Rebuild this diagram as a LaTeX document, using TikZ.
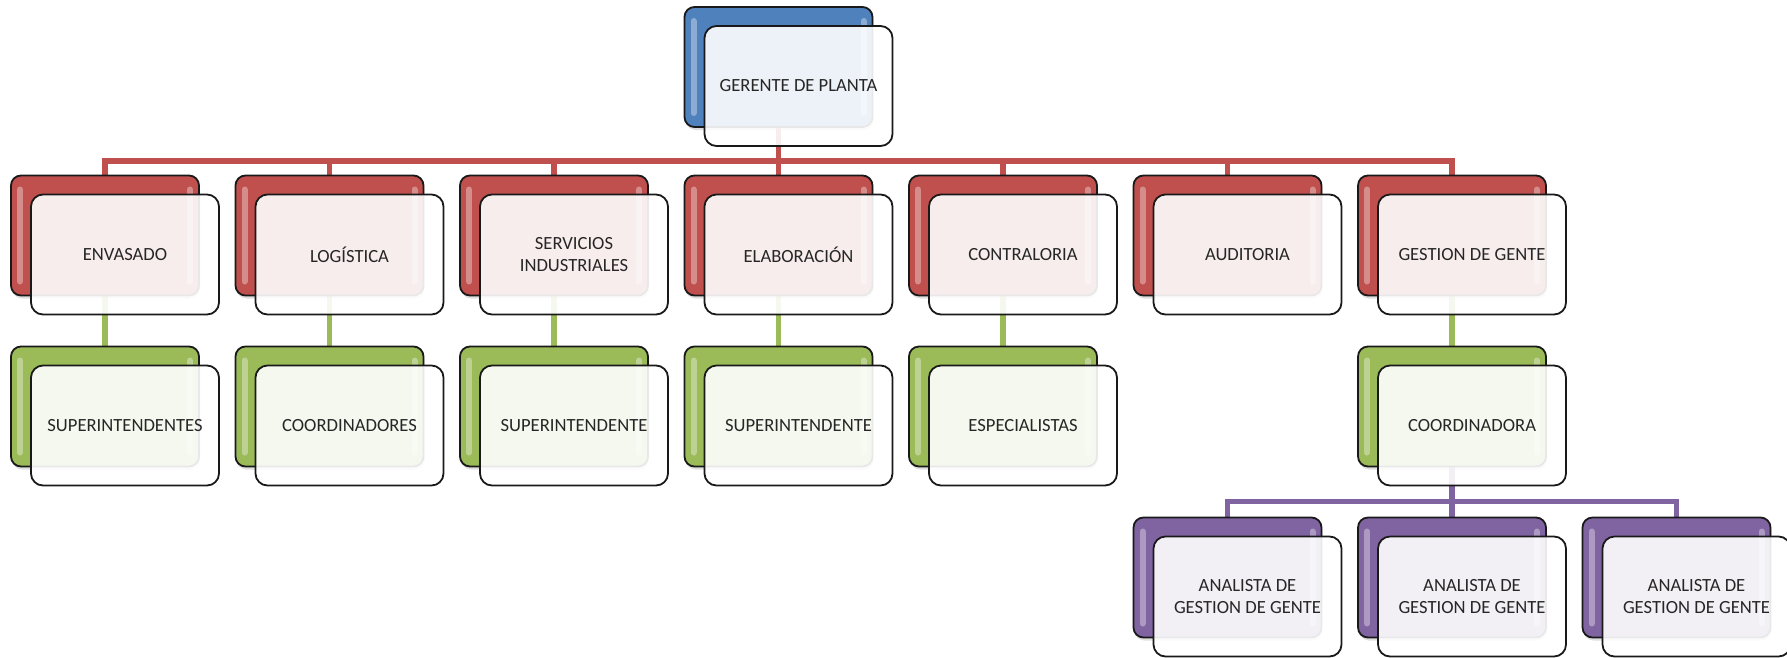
\documentclass[tikz,border=0pt]{standalone}
\usepackage{fontspec}
\setmainfont{Carlito}
\usetikzlibrary{positioning,calc,backgrounds,shadows}

\definecolor{oblue}{HTML}{4F81BD}
\definecolor{ored}{HTML}{C0504D}
\definecolor{ogreen}{HTML}{9BBB59}
\definecolor{opurple}{HTML}{8064A2}

\tikzset{
	backbox/.style={rectangle, rounded corners=10pt, draw=black!90, line width=1.8pt, fill=#1,
		minimum width=188pt, minimum height=120pt,
		drop shadow={shadow xshift=1pt, shadow yshift=-3pt, opacity=0.25},
		path picture={
			\draw[white, opacity=0.35, line width=6pt, line cap=round]
				([xshift=9pt,yshift=-14pt]path picture bounding box.north west) -- ([xshift=9pt,yshift=14pt]path picture bounding box.south west)
				([xshift=-9pt,yshift=-14pt]path picture bounding box.north east) -- ([xshift=-9pt,yshift=14pt]path picture bounding box.south east);
		}},
	frontbox/.style={rectangle, rounded corners=12pt, draw=black!90, line width=1.8pt,
		fill=white, fill opacity=0.9, text opacity=1, draw opacity=1,
		minimum width=188pt, minimum height=120pt, align=center, text=black!85,
		font=\fontsize{18.6}{21.5}\selectfont},
	link/.style={draw=#1, line width=5.5pt},
}

\begin{document}
\begin{tikzpicture}[node distance=224.5pt,on grid]
	\useasboundingbox (0,0) rectangle (1787pt,-657pt);

	% top
	\node[backbox=oblue]	(p_0)	at (778.5pt,-67pt)	{};
	\node[frontbox]	(p_0f)	[below right=19pt and 20pt of p_0]	{GERENTE DE PLANTA};

	% level 1
	\node[backbox=ored]	(a_4)	[below=168.5pt of p_0]	{};
	\node[backbox=ored]	(a_3)	[left=of a_4]	{};
	\node[backbox=ored]	(a_2)	[left=of a_3]	{};
	\node[backbox=ored]	(a_1)	[left=of a_2]	{};
	\node[backbox=ored]	(a_5)	[right=of a_4]	{};
	\node[backbox=ored]	(a_6)	[right=of a_5]	{};
	\node[backbox=ored]	(a_7)	[right=of a_6]	{};
	\node[frontbox]	(a_1f)	[below right=19pt and 20pt of a_1]	{ENVASADO};
	\node[frontbox]	(a_2f)	[below right=19pt and 20pt of a_2]	{LOGÍSTICA};
	\node[frontbox]	(a_3f)	[below right=19pt and 20pt of a_3]	{SERVICIOS\\INDUSTRIALES};
	\node[frontbox]	(a_4f)	[below right=19pt and 20pt of a_4]	{ELABORACIÓN};
	\node[frontbox]	(a_5f)	[below right=19pt and 20pt of a_5]	{CONTRALORIA};
	\node[frontbox]	(a_6f)	[below right=19pt and 20pt of a_6]	{AUDITORIA};
	\node[frontbox]	(a_7f)	[below right=19pt and 20pt of a_7]	{GESTION DE GENTE};

	% level 2
	\node[backbox=ogreen]	(s_1)	[below=171pt of a_1]	{};
	\node[backbox=ogreen]	(s_2)	[below=171pt of a_2]	{};
	\node[backbox=ogreen]	(s_3)	[below=171pt of a_3]	{};
	\node[backbox=ogreen]	(s_4)	[below=171pt of a_4]	{};
	\node[backbox=ogreen]	(s_5)	[below=171pt of a_5]	{};
	\node[backbox=ogreen]	(s_7)	[below=171pt of a_7]	{};
	\node[frontbox]	(s_1f)	[below right=19pt and 20pt of s_1]	{SUPERINTENDENTES};
	\node[frontbox]	(s_2f)	[below right=19pt and 20pt of s_2]	{COORDINADORES};
	\node[frontbox]	(s_3f)	[below right=19pt and 20pt of s_3]	{SUPERINTENDENTE};
	\node[frontbox]	(s_4f)	[below right=19pt and 20pt of s_4]	{SUPERINTENDENTE};
	\node[frontbox]	(s_5f)	[below right=19pt and 20pt of s_5]	{ESPECIALISTAS};
	\node[frontbox]	(s_7f)	[below right=19pt and 20pt of s_7]	{COORDINADORA};

	% level 3
	\node[backbox=opurple]	(n_2)	[below=171pt of s_7]	{};
	\node[backbox=opurple]	(n_1)	[left=of n_2]	{};
	\node[backbox=opurple]	(n_3)	[right=of n_2]	{};
	\node[frontbox]	(n_1f)	[below right=19pt and 20pt of n_1]	{ANALISTA DE\\GESTION DE GENTE};
	\node[frontbox]	(n_2f)	[below right=19pt and 20pt of n_2]	{ANALISTA DE\\GESTION DE GENTE};
	\node[frontbox]	(n_3f)	[below right=19pt and 20pt of n_3]	{ANALISTA DE\\GESTION DE GENTE};

	% connectors
	\begin{pgfonlayer}{background}
		\coordinate (bus_0) at ($(p_0f.south)!.5!(a_1.north)$);
		\coordinate (bus_7) at ($(s_7f.south)!.5!(n_1.north)$);
		\foreach \c in {a_1,a_2,a_3,a_4,a_5,a_6,a_7}
			\draw[link=ored] (p_0.south) -- (p_0.south |- bus_0) -| (\c.north);
		\foreach \c in {1,2,3,4,5,7}
			\draw[link=ogreen] (a_\c.south) -- (s_\c.north);
		\foreach \c in {n_1,n_2,n_3}
			\draw[link=opurple] (s_7.south) -- (s_7.south |- bus_7) -| (\c.north);
	\end{pgfonlayer}
\end{tikzpicture}
\end{document}
